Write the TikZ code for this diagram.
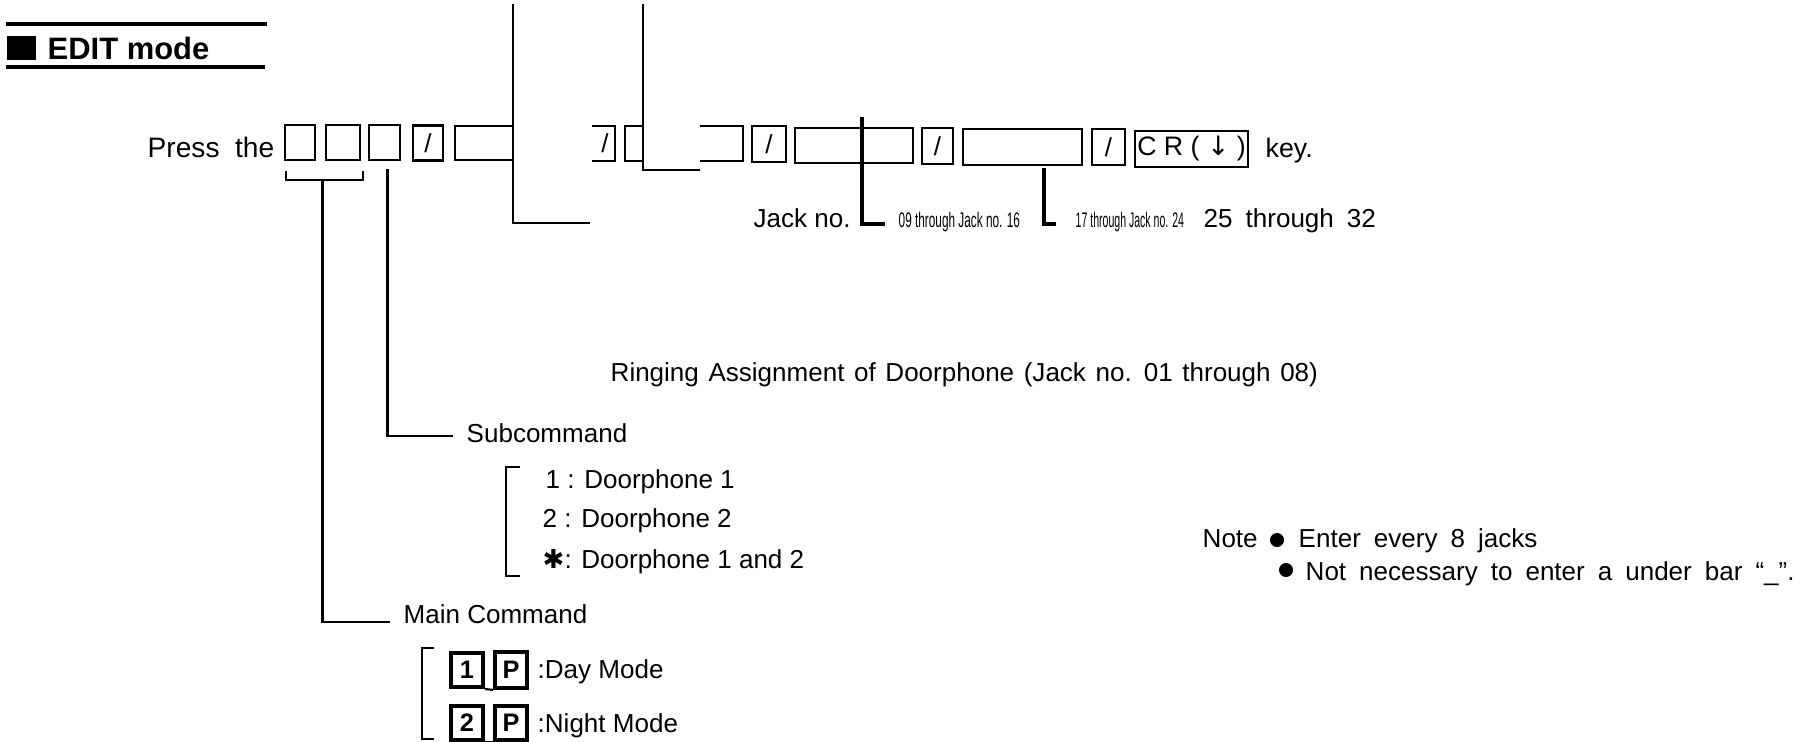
\documentclass[tikz,border=0pt]{standalone}
\usepackage{fontspec}
\setmainfont{Liberation Sans}
\newfontfamily\symfont{DejaVu Sans}
\usepackage{graphicx}
\usetikzlibrary{calc}

\newcommand{\wide}[1]{\spaceskip=#1em\relax}
\newcommand{\narrowtxt}[2]{\scalebox{#1}[1]{#2}}

\begin{document}
\begin{tikzpicture}[x=0.01cm, y=-0.01cm]
        % Estilos
        \tikzset{
            txt/.style={anchor=base west, inner sep=0pt, font=\fontsize{7.4}{9}\selectfont},
            keybox/.style={draw, line width=0.8pt, inner sep=0pt, minimum height=0.35cm, font=\fontsize{7.4}{9}\selectfont},
            modekey/.style={draw, line width=1.1pt, inner sep=0pt, minimum width=0.32cm, minimum height=0.34cm, font=\bfseries\fontsize{7.2}{9}\selectfont},
            lead/.style={line width=0.6pt},
            boldlead/.style={line width=1.4pt},
            rule/.style={line width=1pt},
            dot/.style={circle, fill=black, inner sep=0pt, minimum size=0.14cm}
        }
        \useasboundingbox (0,0) rectangle (1800,741);

        % --- TITLE ---
        \draw[rule] (6,24) -- (267,24);
        \draw[rule] (6,67) -- (265,67);
        \fill (7,36) rectangle (36,60);
        \node[txt, font=\bfseries\fontsize{8.8}{10}\selectfont] (title) at (47,59) {EDIT mode};

        % --- KEY SEQUENCE ---
        \node[txt, font=\fontsize{8}{10}\selectfont] (press) at (147,157) {\wide{0.55}Press the};
        \node[keybox, minimum width=0.30cm] (k1) at (300,142.5) {};
        \node[keybox, minimum width=0.34cm] (k2) at (343,142.5) {};
        \node[keybox, minimum width=0.31cm] (k3) at (384.5,142.5) {};
        \node[keybox, minimum width=0.30cm] (s1) at (428,143) {/};
        % broken boxes of the scan
        \draw[line width=0.8pt] (512,126) -- (455,126) -- (455,160) -- (512,160);
        \draw[line width=0.8pt] (592,126) -- (615,126) -- (615,161) -- (592,161);
        \node[font=\fontsize{7.4}{9}\selectfont] (s2) at (605,143.5) {/};
        \draw[line width=0.8pt] (643,126) -- (625,126) -- (625,161) -- (643,161);
        \draw[line width=0.8pt] (700,126) -- (743,126) -- (743,161) -- (700,161);
        \node[keybox, minimum width=0.34cm, minimum height=0.36cm] (s3) at (769,144) {/};
        \node[keybox, minimum width=1.18cm] (f3) at (854,145.5) {};
        \node[keybox, minimum width=0.31cm, minimum height=0.36cm] (s4) at (937.5,146) {/};
        \node[keybox, minimum width=1.19cm, minimum height=0.36cm] (f4) at (1022.5,147) {};
        \node[keybox, minimum width=0.33cm, minimum height=0.36cm] (s5) at (1108.5,147) {/};
        \node[keybox, minimum width=1.13cm, minimum height=0.36cm, font=\fontsize{7.6}{9}\selectfont] (cr) at (1191.5,149) {C R ( {\symfont ↓} )};
        \node[txt, font=\fontsize{7.6}{9}\selectfont] (key) at (1265,157) {key.};

        % --- JACK NUMBERS ---
        \node[txt] (jack) at (753,227) {Jack no.};
        \node[txt, font=\fontsize{6}{7}\selectfont] (n16) at (898,227) {\narrowtxt{0.56}{09 through Jack no. 16}};
        \node[txt, font=\fontsize{6}{7}\selectfont] (n24) at (1075,227) {\narrowtxt{0.50}{17 through Jack no. 24}};
        \node[txt] (n32) at (1203,227) {\wide{0.5}25 through 32};
        \draw[boldlead] ($(f3.north)+(8,-10)$) |- ($(n16.base west)+(-13,-3)$);
        \draw[lead, line width=1.1pt] ($(f4.south)+(21.5,2)$) |- ($(n24.base west)+(-19,-3)$);

        % --- LONG LEADERS ---
        \coordinate (top1) at (513,4);
        \coordinate (end1) at (590,223);
        \coordinate (top2) at (643,4);
        \coordinate (end2) at (700,170);
        \draw[lead] (top1) |- (end1);
        \draw[lead] (top2) |- (end2);

        \node[txt] (ring) at (610,381) {\wide{0.37}Ringing Assignment of Doorphone (Jack no. 01 through 08)};

        % --- SUBCOMMAND ---
        \node[txt] (sub) at (466,442) {Subcommand};
        \draw[lead] ($(k3.south)+(3,8)$) |- ($(sub.base west)+(-13,-6)$);
        \node[txt] (dp1) at (545,488) {1 : Doorphone 1};
        \node[txt] (dp2) at (542,527) {2 : Doorphone 2};
        \node[txt] (dp3) at (542,568) {{\symfont ✱}: Doorphone 1 and 2};
        \draw[lead, line width=0.7pt] ($(dp1.base west)+(-25,-21)$) -- ++(-14,0) |- ($(dp3.base west)+(-22,8)$);

        % --- MAIN COMMAND ---
        \node[txt] (main) at (403,623) {Main Command};
        \coordinate (mbr) at ($(k1.south west)!0.5!(k2.south east)+(0,19)$);
        \draw[lead] ($(k1.south west)+(2,10)$) -- ++(0,9) -- ($(k2.south east)+(2,19)$) -- ++(0,-9);
        \draw[lead] (mbr) |- ($(main.base west)+(-13,-1)$);
        \node[modekey] (mk1) at (467,670) {1};
        \node[modekey, minimum height=0.36cm] (mp1) at (511,670) {P};
        \node[modekey] (mk2) at (467,723) {2};
        \node[modekey] (mp2) at (511,723) {P};
        \draw[lead] (mk1.south east) -- (mp1.south west);
        \draw[lead] (mk2.south east) -- (mp2.south west);
        \node[txt] (day) at (537,678) {:Day Mode};
        \node[txt] (night) at (537,732) {:Night Mode};
        \draw[lead, line width=0.7pt] ($(mk1.north west)+(-15,-3)$) -- ++(-12,0) |- ($(mk2.south west)+(-15,-3)$);

        % --- NOTE ---
        \node[txt] (note) at (1202,547) {Note};
        \node[dot] (b1) at (1277,540) {};
        \node[txt] (n1) at (1298,547) {\wide{0.5}Enter every 8 jacks};
        \node[dot] (b2) at (1286,570) {};
        \node[txt] (n2) at (1305,580) {\wide{0.5}Not necessary to enter a under bar “\_”.};
\end{tikzpicture}
\end{document}
